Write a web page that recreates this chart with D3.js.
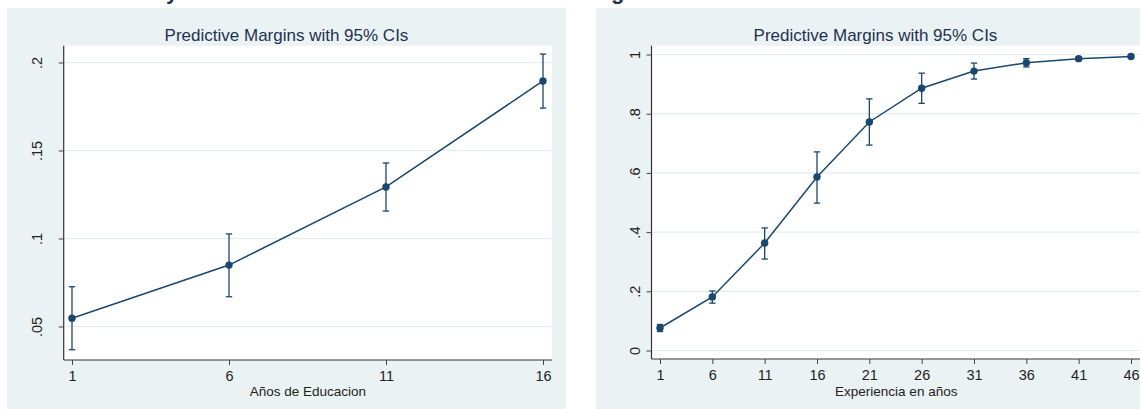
<!DOCTYPE html>
<html>
<head>
<meta charset="utf-8">
<script src="https://cdn.jsdelivr.net/npm/d3@7"></script>
<style>
  html, body { margin: 0; padding: 0; background: #ffffff; }
  svg { display: block; font-family: "Liberation Sans", Arial, sans-serif; }
</style>
</head>
<body>
<svg id="chart" width="1140" height="409"></svg>
<script>
// Predictive margins of education (left) and experience (right), with 95% CIs
const chartTitle = "Predictive Margins with 95% CIs";

const eduYears  = [1, 6, 11, 16];
const eduMargin = [0.0547, 0.0849, 0.1293, 0.1895];
const eduLow    = [0.0368, 0.0669, 0.1156, 0.1741];
const eduHigh   = [0.0726, 0.1026, 0.1429, 0.2048];
const eduYTicks = [0.05, 0.10, 0.15, 0.20];
const eduYLabels = [".05", ".1", ".15", ".2"];
const eduXLabel = "Años de Educacion";

const expYears  = [1, 6, 11, 16, 21, 26, 31, 36, 41, 46];
const expMargin = [0.076, 0.181, 0.363, 0.586, 0.772, 0.886, 0.944, 0.972, 0.986, 0.993];
const expLow    = [0.064, 0.160, 0.309, 0.498, 0.694, 0.835, 0.917, 0.958, 0.980, 0.989];
const expHigh   = [0.088, 0.201, 0.414, 0.671, 0.850, 0.937, 0.971, 0.986, 0.992, 0.997];
const expYTicks = [0, 0.2, 0.4, 0.6, 0.8, 1];
const expYLabels = ["0", ".2", ".4", ".6", ".8", "1"];
const expXLabel = "Experiencia en años";

const NAVY = "#1a476f";
const PANEL_BG = "#eaf2f3";
const GRID = "#e3ecef";
const TITLE_COLOR = "#1f3150";
const FONT = "\"Liberation Sans\", Arial, sans-serif";

const svg = d3.select("#chart");

// Headings sitting above the page edge: only their descenders show
svg.append("text").attr("x", 166).attr("y", -1)
  .attr("font-size", 22).attr("font-weight", "bold").attr("fill", TITLE_COLOR).text("y");
svg.append("text").attr("x", 611).attr("y", -1)
  .attr("font-size", 22).attr("font-weight", "bold").attr("fill", TITLE_COLOR).text("g");

function drawPanel(cfg) {
  const g = svg.append("g");
  // graph region
  g.append("rect").attr("x", cfg.panel[0]).attr("y", cfg.panel[1])
    .attr("width", cfg.panel[2]).attr("height", cfg.panel[3]).attr("fill", PANEL_BG);

  const x = d3.scaleLinear().domain(cfg.xDomain).range(cfg.xRange);
  const y = d3.scaleLinear().domain(cfg.yDomain).range(cfg.yRange);
  const [pl, pt, pr, pb] = cfg.plot;

  // plot region
  g.append("rect").attr("x", pl).attr("y", pt).attr("width", pr - pl).attr("height", pb - pt)
    .attr("fill", "#ffffff");

  // grid lines
  g.append("g").selectAll("line").data(cfg.yTicks).join("line")
    .attr("x1", pl + 1).attr("x2", pr)
    .attr("y1", d => y(d)).attr("y2", d => y(d))
    .attr("stroke", GRID).attr("stroke-width", 1.2);

  // title
  g.append("text").attr("x", cfg.panel[0] + cfg.panel[2] / 2).attr("y", 41)
    .attr("text-anchor", "middle").attr("font-size", 17).attr("fill", TITLE_COLOR)
    .text(chartTitle);

  // y axis
  const yAxis = d3.axisLeft(y).tickValues(cfg.yTicks)
    .tickFormat((d, i) => cfg.yLabels[i]).tickSize(5).tickSizeOuter(0);
  const ya = g.append("g").attr("transform", `translate(${pl},0)`).call(yAxis);
  ya.select(".domain").attr("d", `M0,${pt}V${pb}`).attr("stroke", "#333").attr("stroke-width", 1.2);
  ya.selectAll(".tick line").attr("stroke", "#444");
  ya.selectAll(".tick text")
    .attr("x", null).attr("dy", null)
    .attr("transform", `translate(${cfg.yLabelX - pl},0) rotate(-90)`)
    .attr("text-anchor", "middle")
    .attr("font-size", 14.5).attr("fill", "#222").attr("font-family", FONT);

  // x axis
  const xAxis = d3.axisBottom(x).tickValues(cfg.xTicks).tickFormat(d3.format("d"))
    .tickSize(5).tickSizeOuter(0);
  const xa = g.append("g").attr("transform", `translate(0,${pb})`).call(xAxis);
  xa.select(".domain").attr("d", `M${pl},0H${pr}`).attr("stroke", "#333").attr("stroke-width", 1.2);
  xa.selectAll(".tick line").attr("stroke", "#444");
  xa.selectAll(".tick text").attr("dy", null).attr("y", 21)
    .attr("font-size", 14.5).attr("fill", "#222").attr("font-family", FONT);

  // x axis title
  g.append("text").attr("x", (pl + pr) / 2).attr("y", 396)
    .attr("text-anchor", "middle").attr("font-size", 13.5).attr("fill", "#222")
    .text(cfg.xLabel);

  const rows = cfg.xs.map((d, i) => ({ x: d, m: cfg.m[i], lo: cfg.lo[i], hi: cfg.hi[i] }));

  // confidence interval spikes with caps
  const ci = g.append("g").attr("stroke", NAVY).attr("stroke-width", 1.3).attr("fill", "none");
  ci.selectAll("line.spike").data(rows).join("line").attr("class", "spike")
    .attr("x1", d => x(d.x)).attr("x2", d => x(d.x))
    .attr("y1", d => y(d.lo)).attr("y2", d => y(d.hi));
  ci.selectAll("line.capHi").data(rows).join("line").attr("class", "capHi")
    .attr("x1", d => x(d.x) - 3.2).attr("x2", d => x(d.x) + 3.2)
    .attr("y1", d => y(d.hi)).attr("y2", d => y(d.hi));
  ci.selectAll("line.capLo").data(rows).join("line").attr("class", "capLo")
    .attr("x1", d => x(d.x) - 3.2).attr("x2", d => x(d.x) + 3.2)
    .attr("y1", d => y(d.lo)).attr("y2", d => y(d.lo));

  // connecting line
  g.append("path").datum(rows)
    .attr("d", d3.line().x(d => x(d.x)).y(d => y(d.m)))
    .attr("fill", "none").attr("stroke", NAVY).attr("stroke-width", 1.5);

  // markers
  g.append("g").selectAll("circle").data(rows).join("circle")
    .attr("cx", d => x(d.x)).attr("cy", d => y(d.m)).attr("r", 3.7)
    .attr("fill", NAVY);
}

drawPanel({
  panel: [7, 8, 559, 401],
  plot: [63.7, 45.7, 552, 360],
  xDomain: [1, 16], xRange: [72, 543],
  yDomain: [0.05, 0.2], yRange: [326.5, 62.5],
  xTicks: eduYears, yTicks: eduYTicks, yLabels: eduYLabels,
  yLabelX: 41.5, xLabel: eduXLabel,
  xs: eduYears, m: eduMargin, lo: eduLow, hi: eduHigh
});

drawPanel({
  panel: [596, 8, 559, 401],
  plot: [651.5, 45.7, 1141, 359],
  xDomain: [1, 46], xRange: [660, 1131],
  yDomain: [0, 1], yRange: [350.5, 54.5],
  xTicks: expYears, yTicks: expYTicks, yLabels: expYLabels,
  yLabelX: 640, xLabel: expXLabel,
  xs: expYears, m: expMargin, lo: expLow, hi: expHigh
});
</script>
</body>
</html>
